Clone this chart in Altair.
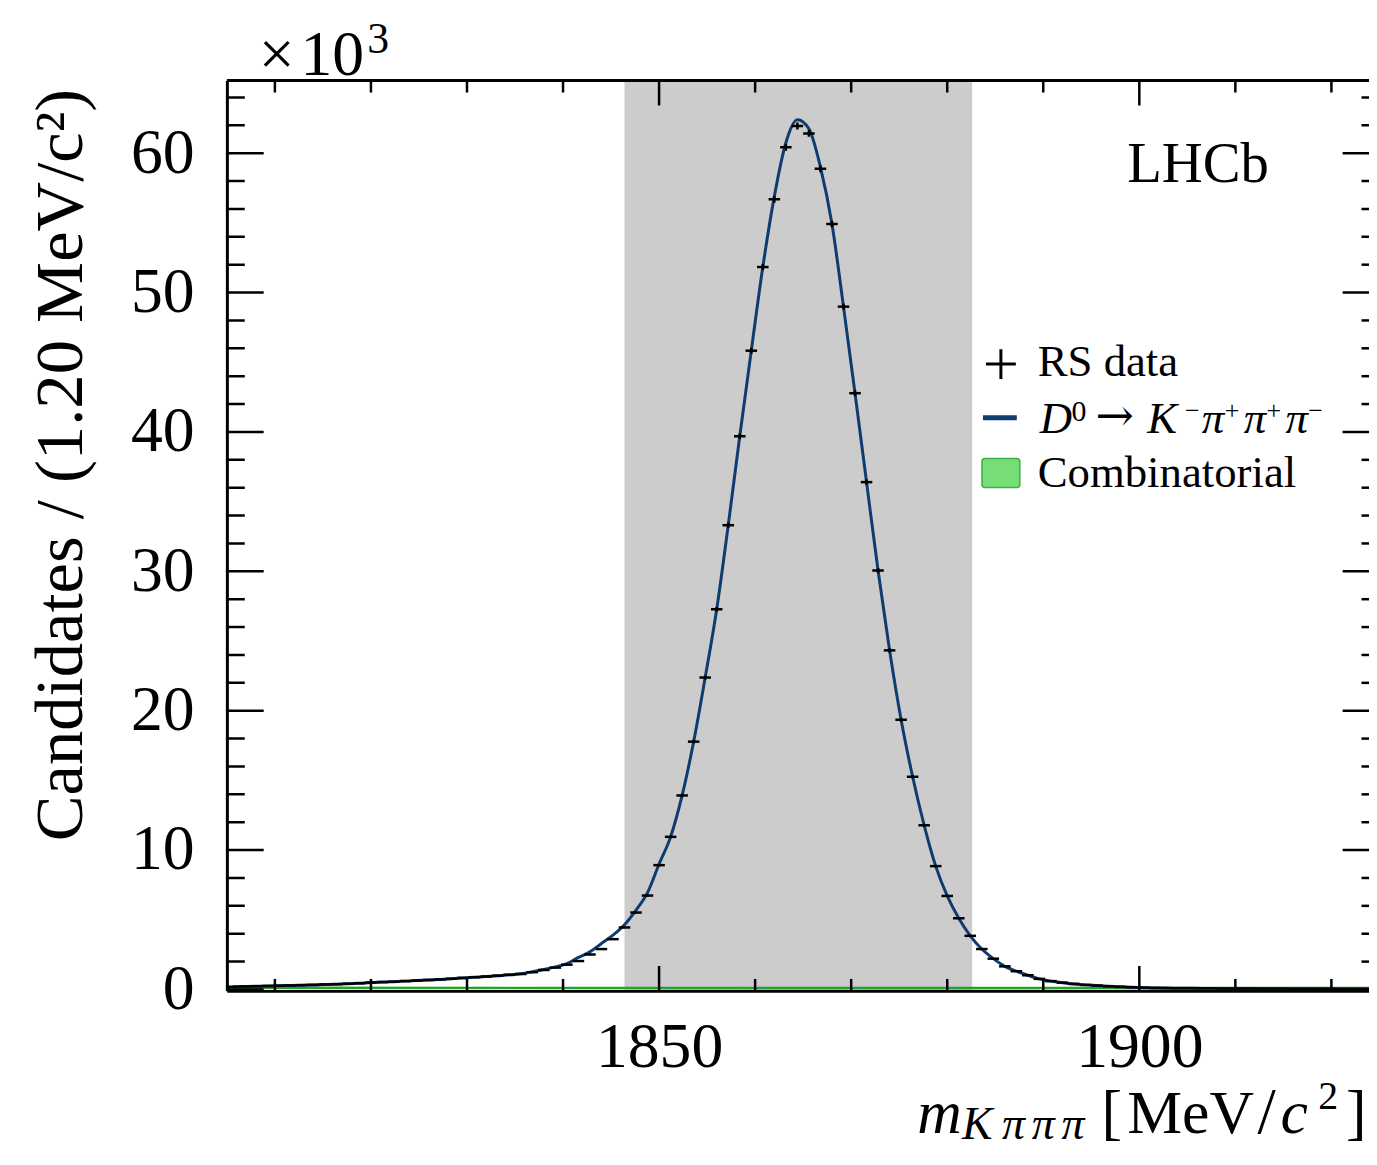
import altair as alt
import pandas as pd

# ---------------- data ----------------
BIN_LO = 1805.0
BIN_W = 1.2
# RS data, candidates per 1.2 MeV bin, in units of 10^3
counts = [
    0.20, 0.21, 0.23, 0.25, 0.27, 0.29, 0.31, 0.33, 0.36, 0.38,
    0.41, 0.45, 0.50, 0.53, 0.56, 0.60, 0.64, 0.68, 0.72, 0.77,
    0.83, 0.88, 0.93, 0.99, 1.05, 1.11, 1.24, 1.40, 1.57, 1.78,
    2.04, 2.51, 2.90, 3.61, 4.45, 5.52, 6.74, 8.92, 10.95, 13.92,
    17.78, 22.38, 27.28, 33.31, 39.69, 45.83, 51.83, 56.69, 60.42, 61.95,
    61.42, 58.88, 54.92, 48.99, 42.78, 36.40, 30.06, 24.33, 19.35, 15.26,
    11.78, 8.85, 6.71, 5.11, 3.85, 2.90, 2.21, 1.66, 1.31, 1.02,
    0.76, 0.60, 0.49, 0.40, 0.33, 0.28, 0.23, 0.19, 0.16, 0.13,
    0.11, 0.10, 0.09, 0.09, 0.08, 0.08, 0.07, 0.07, 0.07, 0.06,
    0.06, 0.06, 0.05, 0.05, 0.05, 0.05, 0.04, 0.04, 0.04, 0.04,
]
# fitted D0 -> K pi pi pi model at the bin centres (10^3)
fit = [
    0.20, 0.21, 0.23, 0.25, 0.27, 0.29, 0.31, 0.33, 0.36, 0.38,
    0.41, 0.45, 0.50, 0.53, 0.56, 0.60, 0.64, 0.68, 0.72, 0.77,
    0.83, 0.88, 0.93, 0.99, 1.05, 1.13, 1.27, 1.43, 1.62, 1.85,
    2.30, 2.70, 3.30, 3.90, 4.65, 5.70, 6.95, 9.00, 10.95, 13.92,
    17.78, 22.38, 27.28, 33.31, 39.69, 45.83, 51.83, 56.90, 60.75, 62.40,
    61.75, 59.00, 54.92, 48.99, 42.78, 36.40, 30.06, 24.33, 19.35, 15.26,
    11.78, 8.85, 6.71, 5.11, 3.85, 2.90, 2.21, 1.66, 1.31, 1.02,
    0.76, 0.60, 0.49, 0.40, 0.33, 0.28, 0.23, 0.19, 0.16, 0.13,
    0.11, 0.10, 0.09, 0.09, 0.08, 0.08, 0.07, 0.07, 0.07, 0.06,
    0.06, 0.06, 0.05, 0.05, 0.05, 0.05, 0.04, 0.04, 0.04, 0.04,
]
comb_m = [1805.0, 1865.0, 1925.0]
comb_v = [0.12, 0.11, 0.10]
band_lo = [1846.4]
band_hi = [1882.6]
x_major = [1850, 1900]
x_minor = [1810, 1820, 1830, 1840, 1860, 1870, 1880, 1890, 1910, 1920]
y_major = [0, 10, 20, 30, 40, 50, 60]
y_minor = [2, 4, 6, 8, 12, 14, 16, 18, 22, 24, 26, 28, 32, 34, 36, 38,
           42, 44, 46, 48, 52, 54, 56, 58, 62, 64]

# ---------------- layout / style ----------------
SERIF = "Liberation Serif"
NAVY = "#0f3c70"
W, H = 1148, 915
PXM = 9.654                       # pixels per MeV
XDOM = [1805.0, 1805.0 + W / PXM]
YDOM = [-0.1, 65.21]
XR = (1925.0 - 1805.0) * PXM      # true right frame (just outside the picture)

xs = alt.Scale(domain=XDOM, nice=False, zero=False)
ys = alt.Scale(domain=YDOM, nice=False, zero=False)

XAX = alt.Axis(values=x_major, format="d", labelFont=SERIF, labelFontSize=64,
               labelColor="black", labelPadding=25, ticks=False, tickSize=0,
               domain=True, domainColor="black", domainWidth=3, grid=False,
               title=None, zindex=1, labelFlush=False, labelOverlap=False)
YAX = alt.Axis(values=y_major, format="d", labelFont=SERIF, labelFontSize=64,
               labelColor="black", labelPadding=33, ticks=False, tickSize=0,
               domain=True, domainColor="black", domainWidth=3, grid=False,
               title="Candidates / (1.20 MeV/c²)", titleFont=SERIF,
               titleFontSize=69, titleFontWeight="normal", titleColor="black",
               titleAngle=270, titleAlign="center", titleBaseline="alphabetic",
               titleX=-146, titleY=386, zindex=1, labelFlush=False,
               labelOverlap=False)

df = pd.DataFrame({"count": counts, "fit": fit})
df["center"] = BIN_LO + BIN_W * (df.index + 0.5)
df["lo"] = df["center"] - BIN_W / 2
df["hi"] = df["center"] + BIN_W / 2

band = alt.Chart(pd.DataFrame({"lo": band_lo, "hi": band_hi})).mark_rect(
    color="#cccccc").encode(
    x=alt.X("lo:Q", scale=xs, axis=XAX), x2="hi:Q",
    y=alt.value(0), y2=alt.value(H))

comb = alt.Chart(pd.DataFrame({"m": comb_m, "v": comb_v})).mark_area(
    color="#77dd77", line={"color": "#2aa02a", "strokeWidth": 2.5},
    clip=True).encode(
    x=alt.X("m:Q", scale=xs, axis=XAX),
    y=alt.Y("v:Q", scale=ys, axis=YAX))

fitline = alt.Chart(df).mark_line(color=NAVY, strokeWidth=3,
                                  interpolate="monotone", clip=True).encode(
    x=alt.X("center:Q", scale=xs, axis=XAX),
    y=alt.Y("fit:Q", scale=ys, axis=YAX))

hbar = alt.Chart(df).mark_rule(color="black", strokeWidth=2.5, clip=True).encode(
    x=alt.X("lo:Q", scale=xs, axis=XAX), x2="hi:Q",
    y=alt.Y("count:Q", scale=ys, axis=YAX))

vbar = alt.Chart(df).transform_calculate(
    ylo="datum.count - sqrt(datum.count * 1000) / 1000",
    yhi="datum.count + sqrt(datum.count * 1000) / 1000",
).mark_rule(color="black", strokeWidth=2.5, clip=True).encode(
    x=alt.X("center:Q", scale=xs, axis=XAX),
    y=alt.Y("ylo:Q", scale=ys, axis=YAX), y2="yhi:Q")


def xticks(vals, y0, y1):
    return alt.Chart(pd.DataFrame({"t": vals})).mark_rule(
        color="black", strokeWidth=2.5, clip=True).encode(
        x=alt.X("t:Q", scale=xs, axis=XAX), y=alt.value(y0), y2=alt.value(y1))


def yticks(vals, x0, x1):
    return alt.Chart(pd.DataFrame({"t": vals})).mark_rule(
        color="black", strokeWidth=2.5, clip=True).encode(
        y=alt.Y("t:Q", scale=ys, axis=YAX), x=alt.value(x0), x2=alt.value(x1))


ticks = [
    xticks(x_major, H, H - 25), xticks(x_minor, H, H - 12),
    xticks(x_major, 0, 25), xticks(x_minor, 0, 12),
    yticks(y_major, 0, 37), yticks(y_minor, 0, 18),
    yticks(y_major, XR, XR - 37), yticks(y_minor, XR, XR - 18),
]

dummy = pd.DataFrame({"d": [0]})


def txt(s, x, y, size, style="normal", font=SERIF):
    return alt.Chart(dummy).mark_text(
        text=s, font=font, fontSize=size, fontStyle=style, align="left",
        baseline="alphabetic", color="black").encode(
        x=alt.value(x), y=alt.value(y))


topframe = alt.Chart(dummy).mark_rule(color="black", strokeWidth=3).encode(
    x=alt.value(0), x2=alt.value(W), y=alt.value(0))

XT_BASE = 1058   # baseline of the x-axis title (plot coordinates)
LG2 = 354        # baseline of the second legend row
texts = [
    # x10^3 multiplier
    txt("×", 32, -6, 64),
    txt("10", 74, -6, 64),
    txt("3", 141, -28, 44),
    txt("LHCb", 905, 102, 57),
    # x-axis title pieces
    txt("m", 694, XT_BASE, 62, "italic"),
    txt("K", 739, XT_BASE + 6, 46, "italic"),
    txt("π", 779, XT_BASE + 6, 46, "italic"),
    txt("π", 809, XT_BASE + 6, 46, "italic"),
    txt("π", 839, XT_BASE + 6, 46, "italic"),
    txt("[", 879, XT_BASE, 62),
    txt("MeV", 905, XT_BASE, 62),
    txt("/", 1036, XT_BASE, 66),
    txt("c", 1059, XT_BASE, 62, "italic"),
    txt("2", 1097, XT_BASE - 24, 40),
    txt("]", 1125, XT_BASE, 62),
    # legend
    txt("RS data", 815, 297, 45),
    txt("D", 817, LG2, 45, "italic"),
    txt("0", 849, LG2 - 12, 30),
    txt("→", 873, LG2 - 2, 46, font="DejaVu Serif"),
    txt("K", 925, LG2, 45, "italic"),
    txt("−", 963, LG2 - 14, 26),
    txt("π", 980, LG2, 45, "italic"),
    txt("+", 1003, LG2 - 14, 26),
    txt("π", 1022, LG2, 45, "italic"),
    txt("+", 1045, LG2 - 14, 26),
    txt("π", 1064, LG2, 45, "italic"),
    txt("−", 1087, LG2 - 14, 26),
    txt("Combinatorial", 815, 409, 45),
]

leg_cross = alt.Chart(dummy).mark_point(
    shape="M-1,0L1,0M0,-1L0,1", size=900, filled=False, stroke="black",
    strokeWidth=3, opacity=1).encode(x=alt.value(778), y=alt.value(285))
leg_line = alt.Chart(dummy).mark_rule(color=NAVY, strokeWidth=5).encode(
    x=alt.value(760), x2=alt.value(794), y=alt.value(339))
leg_rect = alt.Chart(dummy).mark_rect(
    fill="#77dd77", stroke="#3cb043", strokeWidth=1.5, cornerRadius=3).encode(
    x=alt.value(759), x2=alt.value(797), y=alt.value(380), y2=alt.value(409))

chart = alt.layer(
    band, comb, fitline, hbar, vbar, *ticks, topframe,
    leg_cross, leg_line, leg_rect, *texts
).properties(
    width=W, height=H,
    autosize=alt.AutoSizeParams(type="none"),
    padding={"left": 220, "top": 70, "right": 0, "bottom": 155},
    background="white",
).configure_view(stroke=None)

chart.save("out.html", embed_options={"renderer": "svg", "actions": False})
